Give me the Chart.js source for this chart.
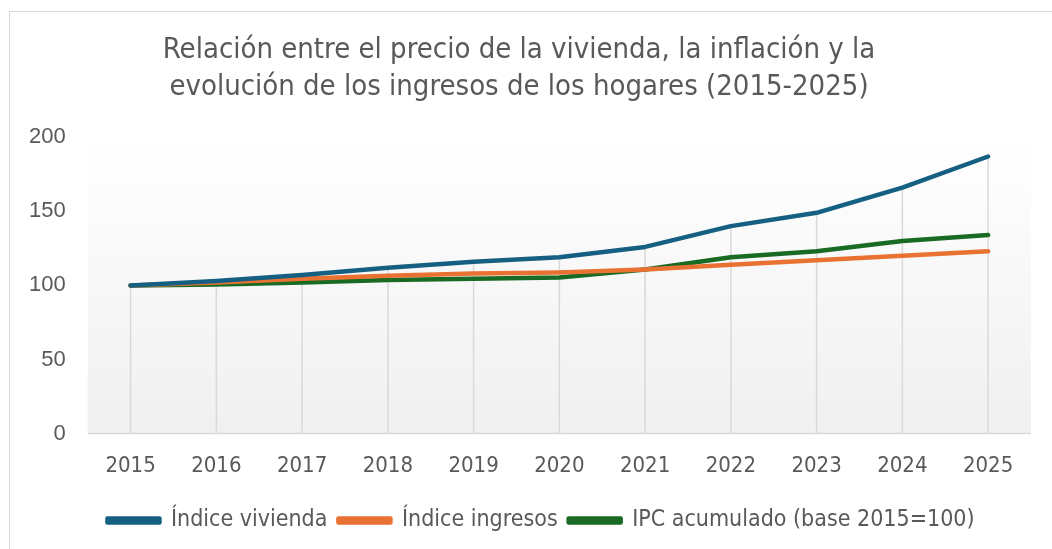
<!DOCTYPE html>
<html>
<head>
<meta charset="utf-8">
<script src="https://cdn.jsdelivr.net/npm/chart.js@4.4.1/dist/chart.umd.min.js"></script>
<style>
  html, body { margin:0; padding:0; background:#fff; }
  #frame { position:absolute; left:9px; top:11px; width:1100px; height:600px; border:1.5px solid #d9d9d9; }
  #wrap { position:absolute; left:0; top:0; width:1052px; height:549px; }
</style>
</head>
<body>
<div id="frame"></div>
<div id="wrap"><canvas id="chart"></canvas></div>
<script>
const years = ['2015','2016','2017','2018','2019','2020','2021','2022','2023','2024','2025'];
const vivienda = [100, 103, 107, 112, 116, 119, 126, 140, 149, 166, 187];
const ingresos = [100, 102, 104.5, 106.5, 108, 108.8, 110.8, 114, 117, 120, 123];
const ipc = [100, 100.6, 102, 103.6, 104.5, 105.3, 110.8, 119, 123, 130, 134];
const titleLines = ['Relación entre el precio de la vivienda, la inflación y la',
                    'evolución de los ingresos de los hogares (2015-2025)'];

const narrow = "'Liberation Sans Narrow', 'DejaVu Sans Condensed', 'Arial Narrow', sans-serif";
const grey = '#595959';
const legendShift = 22;

// plot area gradient + drop lines (Excel style)
const plotDeco = {
  id: 'plotDeco',
  afterLayout(chart) {
    // legend sits a little right of centre in the original
    chart.legend.left += legendShift;
    chart.legend.right += legendShift;
  },
  beforeDatasetsDraw(chart) {
    const {ctx, chartArea: a, scales: {x, y}} = chart;
    ctx.save();
    const g = ctx.createLinearGradient(0, a.top, 0, a.bottom);
    g.addColorStop(0, '#ffffff');
    g.addColorStop(1, '#f0f0f0');
    ctx.fillStyle = g;
    ctx.fillRect(a.left, a.top, a.right - a.left, a.bottom - a.top);
    ctx.strokeStyle = '#d9d9d9';
    ctx.lineWidth = 1.5;
    years.forEach((yr, i) => {
      const top = Math.max(vivienda[i], ingresos[i], ipc[i]);
      const px = x.getPixelForValue(i);
      ctx.beginPath();
      ctx.moveTo(px, y.getPixelForValue(top));
      ctx.lineTo(px, a.bottom);
      ctx.stroke();
    });
    ctx.beginPath();
    ctx.moveTo(a.left, a.bottom);
    ctx.lineTo(a.right, a.bottom);
    ctx.stroke();
    ctx.restore();
  }
};

function ds(label, data, color) {
  return {
    label, data,
    borderColor: color, backgroundColor: color,
    borderWidth: 4.5, pointRadius: 0, tension: 0,
    borderCapStyle: 'round', borderJoinStyle: 'round'
  };
}

new Chart(document.getElementById('chart'), {
  type: 'line',
  data: {
    labels: years,
    datasets: [
      ds('Índice vivienda', vivienda, '#156082'),
      ds('Índice ingresos', ingresos, '#E97132'),
      ds('IPC acumulado (base 2015=100)', ipc, '#196B24')
    ]
  },
  options: {
    responsive: true,
    maintainAspectRatio: false,
    animation: false,
    layout: { padding: { left: 7, right: 21, top: 32, bottom: 7 } },
    plugins: {
      title: {
        display: true,
        text: titleLines,
        color: grey,
        font: { family: narrow, size: 29, weight: 'normal', lineHeight: 1.28 },
        padding: { top: 0, bottom: 31 }
      },
      legend: {
        position: 'bottom',
        labels: {
          color: grey,
          font: { family: narrow, size: 23, lineHeight: 1 },
          boxWidth: 52, boxHeight: 4,
          padding: 11
        }
      },
      tooltip: { enabled: false }
    },
    scales: {
      x: {
        offset: true,
        grid: { display: false, offset: false, drawTicks: false },
        border: { display: false },
        ticks: { color: grey, font: { family: narrow, size: 22 }, padding: 19 }
      },
      y: {
        min: 0, max: 200,
        grid: { display: false, drawTicks: false },
        border: { display: false },
        ticks: { stepSize: 50, color: grey, font: { family: "'Liberation Sans', Arial, sans-serif", size: 22 }, padding: 22 }
      }
    }
  },
  plugins: [plotDeco]
});
</script>
</body>
</html>
